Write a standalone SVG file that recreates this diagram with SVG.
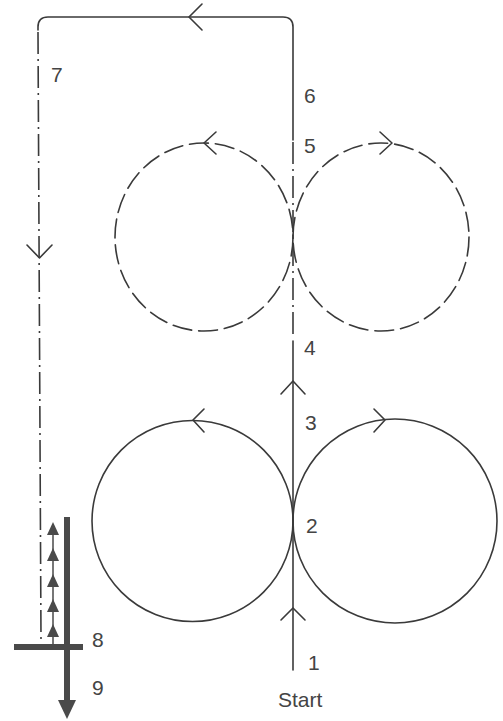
<svg xmlns="http://www.w3.org/2000/svg" width="503" height="721" viewBox="0 0 503 721">
<style>
.ln{fill:none;stroke:#3a3a3a;stroke-width:1.6;stroke-linecap:round;stroke-linejoin:round}
.dash{stroke-dasharray:19 7}
.dd{stroke-dasharray:22 5 2 5;stroke-linecap:butt}
.lbl{font-family:"Liberation Sans",Arial,sans-serif;font-size:21px;fill:#444}
.thick{fill:#4a4a4a}
</style>
<rect width="503" height="721" fill="#ffffff"/>
<g id="connectors">
<path class="ln" d="M293 140 V27 Q293 17 283 17 H48 Q38 17 38 27 V30"/>
<path class="ln dd" d="M38 32 L41 640"/>
<path class="ln dd" d="M293 142 V336"/>
<path class="ln" d="M293 341 V670"/>
<path class="ln" d="M202 4 L189 17 L202 30"/>
<path class="ln" d="M27 245 L39.5 258 L52 245"/>
<path class="ln" d="M281 394 L293 381 L305 394"/>
<path class="ln" d="M281 620 L293 608 L305 620"/>
</g>
<g id="dashed-circles">
<ellipse class="ln dash" cx="204" cy="237" rx="89" ry="94"/>
<ellipse class="ln dash" cx="381" cy="237" rx="88" ry="94"/>
<path class="ln" d="M216 132 L204 143 L216 154"/>
<path class="ln" d="M380 132 L392 143 L380 154"/>
</g>
<g id="solid-circles">
<circle class="ln" cx="192.5" cy="521" r="100.5"/>
<circle class="ln" cx="395" cy="521" r="102"/>
<path class="ln" d="M204 409 L193 420 L204 432"/>
<path class="ln" d="M374 409 L385 420 L374 432"/>
</g>
<g id="finish">
<line x1="53" y1="530" x2="53" y2="645" stroke="#4a4a4a" stroke-width="1.5"/>
<polygon class="thick" points="53,522 47,535 59,535"/>
<polygon class="thick" points="53,548 47,561 59,561"/>
<polygon class="thick" points="53,574 47,587 59,587"/>
<polygon class="thick" points="53,599 47,612 59,612"/>
<polygon class="thick" points="53,624 47,637 59,637"/>
<rect class="thick" x="64" y="517" width="6" height="186"/>
<polygon class="thick" points="58,700 76,700 67,719"/>
<rect class="thick" x="14" y="644" width="69" height="6"/>
</g>
<g id="labels">
<text class="lbl" x="51" y="82">7</text>
<text class="lbl" x="304" y="103">6</text>
<text class="lbl" x="304" y="153">5</text>
<text class="lbl" x="304" y="355">4</text>
<text class="lbl" x="305" y="430">3</text>
<text class="lbl" x="306" y="533">2</text>
<text class="lbl" x="308" y="670">1</text>
<text class="lbl" x="278" y="707">Start</text>
<text class="lbl" x="92" y="647">8</text>
<text class="lbl" x="92" y="695">9</text>
</g>
</svg>
